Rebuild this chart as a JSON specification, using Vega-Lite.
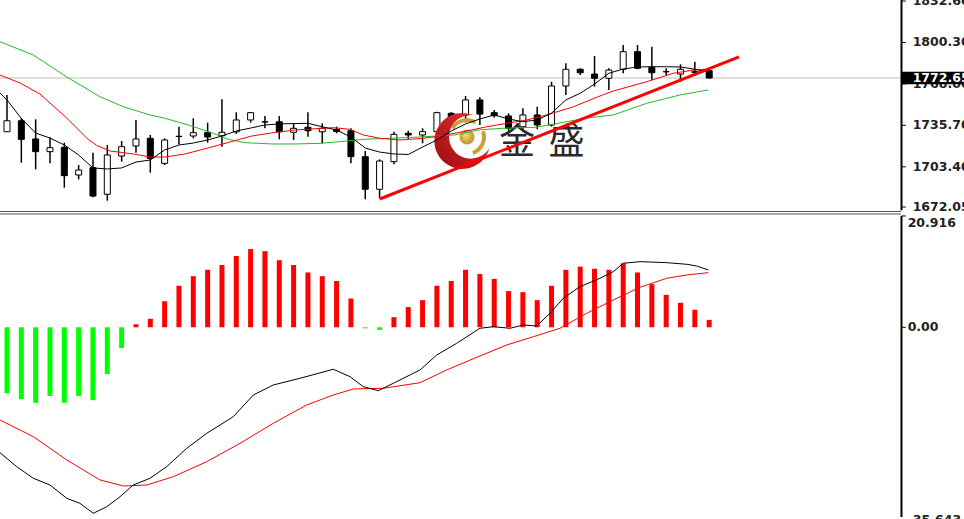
{
  "$schema": "https://vega.github.io/schema/vega-lite/v6.json",
  "autosize": {"type": "none"},
  "padding": {"left": 0, "top": 0, "right": 63, "bottom": 0},
  "width": 901,
  "height": 519,
  "background": "#ffffff",
  "config": {"view": {"stroke": null}, "scale": {"continuousPadding": 0}},
  "datasets": {
    "candles": [
      {"t":0,"o":1730.7,"h":1759.4,"l":1730.5,"c":1739.3},
      {"t":1,"o":1739.3,"h":1741.4,"l":1706.6,"c":1724.8},
      {"t":2,"o":1725.1,"h":1740.4,"l":1701.4,"c":1715.2},
      {"t":3,"o":1715.2,"h":1726.4,"l":1706.1,"c":1718.3},
      {"t":4,"o":1718.6,"h":1722.2,"l":1687.1,"c":1696.5},
      {"t":5,"o":1697.0,"h":1704.8,"l":1693.6,"c":1700.9},
      {"t":6,"o":1702.7,"h":1714.4,"l":1679.6,"c":1680.6},
      {"t":7,"o":1682.0,"h":1720.4,"l":1677.0,"c":1712.6},
      {"t":8,"o":1711.8,"h":1723.5,"l":1707.4,"c":1719.1},
      {"t":9,"o":1719.6,"h":1739.9,"l":1714.4,"c":1725.1},
      {"t":10,"o":1725.6,"h":1728.2,"l":1698.8,"c":1710.0},
      {"t":11,"o":1706.1,"h":1725.6,"l":1704.8,"c":1724.3},
      {"t":12,"o":1727.0,"h":1734.7,"l":1720.8,"c":1727.2},
      {"t":13,"o":1727.4,"h":1741.2,"l":1725.6,"c":1730.0},
      {"t":14,"o":1730.0,"h":1737.8,"l":1722.2,"c":1726.6},
      {"t":15,"o":1727.6,"h":1756.0,"l":1719.1,"c":1730.3},
      {"t":16,"o":1730.7,"h":1745.9,"l":1729.0,"c":1739.9},
      {"t":17,"o":1739.9,"h":1746.0,"l":1737.8,"c":1745.6},
      {"t":18,"o":1738.3,"h":1743.0,"l":1733.4,"c":1738.5},
      {"t":19,"o":1738.5,"h":1743.0,"l":1724.8,"c":1730.7},
      {"t":20,"o":1730.3,"h":1737.3,"l":1724.3,"c":1733.4},
      {"t":21,"o":1734.2,"h":1745.9,"l":1726.9,"c":1731.5},
      {"t":22,"o":1730.7,"h":1737.3,"l":1721.7,"c":1733.4},
      {"t":23,"o":1732.6,"h":1734.7,"l":1729.5,"c":1730.9},
      {"t":24,"o":1731.5,"h":1733.4,"l":1706.1,"c":1711.3},
      {"t":25,"o":1711.3,"h":1715.7,"l":1678.1,"c":1685.9},
      {"t":26,"o":1685.9,"h":1709.2,"l":1678.8,"c":1707.9},
      {"t":27,"o":1707.4,"h":1730.8,"l":1705.3,"c":1728.7},
      {"t":28,"o":1729.5,"h":1731.5,"l":1724.8,"c":1728.2},
      {"t":29,"o":1728.2,"h":1733.4,"l":1721.7,"c":1730.8},
      {"t":30,"o":1730.8,"h":1746.3,"l":1727.0,"c":1745.6},
      {"t":31,"o":1745.1,"h":1746.0,"l":1735.0,"c":1740.4},
      {"t":32,"o":1743.8,"h":1758.6,"l":1738.0,"c":1755.5},
      {"t":33,"o":1755.5,"h":1757.6,"l":1736.0,"c":1744.5},
      {"t":34,"o":1745.6,"h":1747.7,"l":1741.9,"c":1743.2},
      {"t":35,"o":1743.0,"h":1745.1,"l":1730.0,"c":1733.4},
      {"t":36,"o":1734.6,"h":1749.0,"l":1731.0,"c":1743.8},
      {"t":37,"o":1743.8,"h":1750.2,"l":1732.6,"c":1736.0},
      {"t":38,"o":1736.0,"h":1769.7,"l":1734.7,"c":1766.4},
      {"t":39,"o":1766.4,"h":1784.1,"l":1759.4,"c":1779.4},
      {"t":40,"o":1779.4,"h":1780.2,"l":1774.9,"c":1776.7},
      {"t":41,"o":1775.7,"h":1789.8,"l":1765.8,"c":1772.4},
      {"t":42,"o":1772.4,"h":1780.2,"l":1763.3,"c":1778.8},
      {"t":43,"o":1779.4,"h":1798.3,"l":1776.3,"c":1793.1},
      {"t":44,"o":1793.1,"h":1798.3,"l":1779.4,"c":1780.2},
      {"t":45,"o":1780.9,"h":1797.0,"l":1771.0,"c":1776.7},
      {"t":46,"o":1777.5,"h":1780.2,"l":1774.9,"c":1777.5},
      {"t":47,"o":1775.7,"h":1783.3,"l":1769.7,"c":1779.4},
      {"t":48,"o":1777.5,"h":1785.3,"l":1774.2,"c":1777.0},
      {"t":49,"o":1778.3,"h":1779.4,"l":1772.0,"c":1772.6}
    ],
    "ma_black": [
      {"t":-0.49,"p":1760.9},{"t":0,"p":1755.5},{"t":0.98,"p":1741.4},{"t":2,"p":1729.7},{"t":3,"p":1725.8},
      {"t":4,"p":1720.4},{"t":5,"p":1712.6},{"t":6,"p":1702.5},{"t":7,"p":1701.7},{"t":8,"p":1702.5},
      {"t":9,"p":1707.1},{"t":10,"p":1708.7},{"t":11,"p":1716.5},{"t":12,"p":1720.4},{"t":13,"p":1721.9},
      {"t":14,"p":1724.3},{"t":15,"p":1727.4},{"t":16,"p":1731.3},{"t":17,"p":1733.6},{"t":18,"p":1736.0},
      {"t":19,"p":1736.8},{"t":20,"p":1737.1},{"t":21,"p":1737.3},{"t":22,"p":1734.6},{"t":23,"p":1732.1},
      {"t":24,"p":1726.6},{"t":25,"p":1718.0},{"t":26,"p":1714.9},{"t":27,"p":1713.4},{"t":28,"p":1713.0},
      {"t":29,"p":1718.8},{"t":30,"p":1724.3},{"t":31,"p":1731.3},{"t":32,"p":1736.8},{"t":33,"p":1740.7},
      {"t":34,"p":1743.8},{"t":35,"p":1740.7},{"t":36,"p":1738.5},{"t":37,"p":1739.9},{"t":38,"p":1745.3},
      {"t":39,"p":1755.5},{"t":40,"p":1760.7},{"t":41,"p":1767.9},{"t":42,"p":1776.3},{"t":43,"p":1779.6},
      {"t":44,"p":1781.2},{"t":45,"p":1781.4},{"t":46,"p":1781.4},{"t":47,"p":1781.2},{"t":48,"p":1779.4},
      {"t":49,"p":1777.3}
    ],
    "ma_red": [
      {"t":-0.49,"p":1774.9},{"t":0.91,"p":1768.7},{"t":2.30,"p":1760.1},{"t":4.17,"p":1741.4},{"t":5.56,"p":1725.8},
      {"t":6.26,"p":1720.0},{"t":7.19,"p":1715.7},{"t":8.81,"p":1713.4},{"t":9.98,"p":1711.0},{"t":11.03,"p":1711.0},
      {"t":12.42,"p":1713.4},{"t":14.28,"p":1718.8},{"t":15.68,"p":1723.1},{"t":17.08,"p":1727.4},{"t":18.47,"p":1729.8},
      {"t":20.10,"p":1732.1},{"t":22.77,"p":1733.9},{"t":23.94,"p":1732.6},{"t":24.86,"p":1728.2},{"t":26.03,"p":1725.6},
      {"t":27.42,"p":1724.3},{"t":29.05,"p":1725.6},{"t":29.99,"p":1727.0},{"t":31.84,"p":1730.8},{"t":33.48,"p":1734.6},
      {"t":34.87,"p":1737.3},{"t":36.27,"p":1739.9},{"t":37.66,"p":1743.8},{"t":39.52,"p":1750.2},{"t":41.38,"p":1758.6},
      {"t":42.31,"p":1762.5},{"t":44.64,"p":1769.7},{"t":46.50,"p":1776.3},{"t":47.89,"p":1778.8},{"t":48.99,"p":1779.6}
    ],
    "ma_green": [
      {"t":-0.49,"p":1800.9},{"t":1.84,"p":1790.5},{"t":4.17,"p":1773.4},{"t":6.49,"p":1758.0},{"t":8.12,"p":1750.2},
      {"t":9.98,"p":1743.8},{"t":11.03,"p":1741.2},{"t":12.65,"p":1736.0},{"t":14.28,"p":1730.0},{"t":15.44,"p":1724.8},
      {"t":16.61,"p":1722.2},{"t":18.47,"p":1721.2},{"t":20.10,"p":1721.2},{"t":21.84,"p":1721.7},{"t":23.24,"p":1723.0},
      {"t":24.86,"p":1724.8},{"t":26.73,"p":1725.6},{"t":28.35,"p":1726.4},{"t":29.99,"p":1727.4},{"t":31.26,"p":1728.2},
      {"t":32.89,"p":1732.1},{"t":34.52,"p":1733.4},{"t":36.85,"p":1734.2},{"t":38.24,"p":1736.8},{"t":40.33,"p":1741.2},
      {"t":42.31,"p":1743.8},{"t":44.64,"p":1752.9},{"t":46.97,"p":1759.4},{"t":48.94,"p":1763.3}
    ],
    "trend": [{"t":26.01,"p":1678.3},{"t":51.08,"p":1789.0}],
    "last": [{"p":1772.6,"label":"1772.65"}],
    "pticks": [
      {"p":1832.6,"label":"1832.60"},{"p":1800.3,"label":"1800.30"},{"p":1768.0,"label":"1768.00"},
      {"p":1735.7,"label":"1735.70"},{"p":1703.4,"label":"1703.40"},{"p":1672.05,"label":"1672.05"}
    ],
    "mticks": [
      {"v":20.916,"label":"20.916"},{"v":0,"label":"0.00"},{"v":-36.2,"label":"-35.643"}
    ],
    "logo": [
      {"part":"crescent","t":31.78,"p":1723.5},
      {"part":"ball","t":32.1,"p":1726.6},
      {"part":"swoosh","t":32.1,"p":1726.6}
    ],
    "brand": [
      {"t":35.59,"p":1721.9,"txt":"金"},
      {"t":39.04,"p":1721.9,"txt":"盛"}
    ],
    "hist": [
      {"t":0,"v":-12.4},{"t":1,"v":-13.5},{"t":2,"v":-14.2},{"t":3,"v":-12.9},{"t":4,"v":-14.2},
      {"t":5,"v":-12.9},{"t":6,"v":-13.7},{"t":7,"v":-8.8},{"t":8,"v":-3.9},{"t":9,"v":0.56},
      {"t":10,"v":1.6},{"t":11,"v":4.9},{"t":12,"v":7.8},{"t":13,"v":9.6},{"t":14,"v":10.8},
      {"t":15,"v":11.7},{"t":16,"v":13.4},{"t":17,"v":14.7},{"t":18,"v":14.3},{"t":19,"v":12.6},
      {"t":20,"v":11.7},{"t":21,"v":10.3},{"t":22,"v":9.6},{"t":23,"v":8.7},{"t":24,"v":5.4},
      {"t":25,"v":-0.2},{"t":26,"v":-0.5},{"t":27,"v":1.9},{"t":28,"v":3.8},{"t":29,"v":5.1},
      {"t":30,"v":7.8},{"t":31,"v":8.7},{"t":32,"v":10.8},{"t":33,"v":10.0},{"t":34,"v":9.1},
      {"t":35,"v":6.8},{"t":36,"v":6.6},{"t":37,"v":5.1},{"t":38,"v":7.8},{"t":39,"v":10.8},
      {"t":40,"v":11.4},{"t":41,"v":11.0},{"t":42,"v":10.8},{"t":43,"v":12.0},{"t":44,"v":10.3},
      {"t":45,"v":8.1},{"t":46,"v":6.1},{"t":47,"v":4.6},{"t":48,"v":3.3},{"t":49,"v":1.4}
    ],
    "macd": [
      {"t":-0.49,"v":-23.56},{"t":0.68,"v":-26.19},{"t":1.84,"v":-28.37},{"t":3.0,"v":-29.63},{"t":4.17,"v":-32.13},
      {"t":5.09,"v":-33.07},{"t":6.02,"v":-34.95},{"t":6.96,"v":-33.71},{"t":7.89,"v":-31.83},{"t":8.81,"v":-29.63},
      {"t":9.98,"v":-28.37},{"t":11.14,"v":-26.19},{"t":12.54,"v":-22.74},{"t":13.94,"v":-19.92},{"t":15.79,"v":-16.80},
      {"t":17.19,"v":-12.72},{"t":18.58,"v":-10.84},{"t":20.45,"v":-9.58},{"t":22.77,"v":-7.89},{"t":23.94,"v":-9.28},
      {"t":24.86,"v":-11.16},{"t":25.91,"v":-11.91},{"t":26.96,"v":-10.52},{"t":28.82,"v":-8.02},{"t":29.99,"v":-5.20},
      {"t":31.38,"v":-3.01},{"t":33.0,"v":-0.19},{"t":33.94,"v":0.11},{"t":35.1,"v":-0.19},{"t":36.03,"v":0.43},
      {"t":36.96,"v":0.24},{"t":37.89,"v":2.63},{"t":38.82,"v":5.45},{"t":39.99,"v":7.63},{"t":41.38,"v":9.21},
      {"t":42.31,"v":10.45},{"t":43.01,"v":12.03},{"t":44.17,"v":12.33},{"t":46.04,"v":12.14},{"t":47.43,"v":11.84},
      {"t":48.13,"v":11.52},{"t":48.94,"v":10.77}
    ],
    "signal": [
      {"t":-0.49,"v":-17.42},{"t":1.84,"v":-20.56},{"t":4.17,"v":-24.93},{"t":6.49,"v":-28.69},{"t":8.12,"v":-29.82},
      {"t":9.75,"v":-29.63},{"t":11.61,"v":-28.07},{"t":13.94,"v":-25.25},{"t":16.26,"v":-21.80},{"t":18.58,"v":-18.04},
      {"t":20.91,"v":-14.60},{"t":22.77,"v":-12.72},{"t":24.17,"v":-11.59},{"t":26.26,"v":-11.46},{"t":28.82,"v":-10.41},
      {"t":30.68,"v":-8.02},{"t":33.0,"v":-5.39},{"t":34.87,"v":-3.33},{"t":36.73,"v":-1.77},{"t":38.59,"v":-0.19},
      {"t":40.45,"v":2.63},{"t":42.31,"v":5.13},{"t":44.17,"v":7.52},{"t":46.04,"v":9.21},{"t":47.43,"v":9.83},
      {"t":48.94,"v":10.26}
    ]
  },
  "resolve": {"scale": {"y": "independent"}, "axis": {"y": "independent"}},
  "layer": [
    {
      "layer": [
        {
          "data": {"name": "last"},
          "mark": {"type": "rule", "color": "#c0c0c0", "strokeWidth": 1},
          "encoding": {
            "y": {"field": "p", "type": "quantitative",
                  "scale": {"domain": [1668.17, 1833.4], "range": [212, 0], "nice": false, "zero": false, "padding": 0}, "axis": null}
          }
        },
        {
          "data": {"name": "last"},
          "mark": {"type": "rule", "color": "#555555", "strokeWidth": 1},
          "encoding": {
            "y": {"datum": 1668.56, "type": "quantitative",
                  "scale": {"domain": [1668.17, 1833.4], "range": [212, 0], "nice": false, "zero": false, "padding": 0}, "axis": null}
          }
        },
        {
          "data": {"name": "last"},
          "mark": {"type": "rule", "color": "#000000", "strokeWidth": 2},
          "encoding": {
            "x": {"datum": 62.42, "type": "quantitative", "scale": {"domain": [-0.4885, 62.386], "nice": false, "zero": false, "padding": 0}, "axis": null},
            "y": {"datum": 1833.4, "type": "quantitative",
                  "scale": {"domain": [1668.17, 1833.4], "range": [212, 0], "nice": false, "zero": false, "padding": 0}, "axis": null},
            "y2": {"datum": 1669.5}
          }
        },
        {
          "data": {"name": "pticks"},
          "mark": {"type": "rule", "color": "#000000", "strokeWidth": 1},
          "encoding": {
            "x": {"datum": 62.42, "type": "quantitative", "scale": {"domain": [-0.4885, 62.386], "nice": false, "zero": false, "padding": 0}, "axis": null},
            "x2": {"datum": 62.72},
            "y": {"field": "p", "type": "quantitative",
                  "scale": {"domain": [1668.17, 1833.4], "range": [212, 0], "nice": false, "zero": false, "padding": 0}, "axis": null}
          }
        },
        {
          "data": {"name": "pticks"},
          "mark": {"type": "text", "font": "DejaVu Sans", "fontSize": 12.5, "fontWeight": "bold", "color": "#222222", "align": "left", "baseline": "middle"},
          "encoding": {
            "x": {"datum": 63.2, "type": "quantitative", "scale": {"domain": [-0.4885, 62.386], "nice": false, "zero": false, "padding": 0}, "axis": null},
            "y": {"field": "p", "type": "quantitative",
                  "scale": {"domain": [1668.17, 1833.4], "range": [212, 0], "nice": false, "zero": false, "padding": 0}, "axis": null},
            "text": {"field": "label"}
          }
        },
        {
          "data": {"name": "candles"},
          "mark": {"type": "rule", "color": "#000000", "strokeWidth": 1.5},
          "encoding": {
            "x": {"field": "t", "type": "quantitative", "scale": {"domain": [-0.4885, 62.386], "nice": false, "zero": false, "padding": 0}, "axis": null},
            "y": {"field": "l", "type": "quantitative",
                  "scale": {"domain": [1668.17, 1833.4], "range": [212, 0], "nice": false, "zero": false, "padding": 0}, "axis": null},
            "y2": {"field": "h"}
          }
        },
        {
          "data": {"name": "candles"},
          "mark": {"type": "bar", "size": 6, "stroke": "#000000", "strokeWidth": 1},
          "encoding": {
            "x": {"field": "t", "type": "quantitative", "scale": {"domain": [-0.4885, 62.386], "nice": false, "zero": false, "padding": 0}, "axis": null},
            "y": {"field": "o", "type": "quantitative",
                  "scale": {"domain": [1668.17, 1833.4], "range": [212, 0], "nice": false, "zero": false, "padding": 0}, "axis": null},
            "y2": {"field": "c"},
            "fill": {"condition": {"test": "datum.c < datum.o", "value": "#000000"}, "value": "#ffffff"}
          }
        },
        {
          "data": {"name": "logo"},
          "transform": [{"filter": "datum.part == 'crescent'"}],
          "mark": {"type": "point", "filled": true, "opacity": 1, "size": 3136,
                   "shape": "M0.377,-0.926 A1,1 0 1,0 0.967,0.254 A0.78,0.78 0 1,1 0.377,-0.926 Z",
                   "fill": {"gradient": "linear", "x1": 1, "y1": 0, "x2": 0, "y2": 1,
                            "stops": [{"offset": 0, "color": "#f03030"}, {"offset": 1, "color": "#9a0c10"}]},
                   "strokeWidth": 0},
          "encoding": {
            "x": {"field": "t", "type": "quantitative", "scale": {"domain": [-0.4885, 62.386], "nice": false, "zero": false, "padding": 0}, "axis": null},
            "y": {"field": "p", "type": "quantitative",
                  "scale": {"domain": [1668.17, 1833.4], "range": [212, 0], "nice": false, "zero": false, "padding": 0}, "axis": null}
          }
        },
        {
          "data": {"name": "logo"},
          "transform": [{"filter": "datum.part == 'swoosh'"}],
          "mark": {"type": "point", "filled": false, "opacity": 1, "size": 1156,
                   "shape": "M-0.866,-0.5 A1,1 0 0,1 0.5,-0.866 M0.94,-0.342 A1,1 0 0,1 0.342,0.94",
                   "stroke": "#c9a035", "strokeWidth": 4},
          "encoding": {
            "x": {"field": "t", "type": "quantitative", "scale": {"domain": [-0.4885, 62.386], "nice": false, "zero": false, "padding": 0}, "axis": null},
            "y": {"field": "p", "type": "quantitative",
                  "scale": {"domain": [1668.17, 1833.4], "range": [212, 0], "nice": false, "zero": false, "padding": 0}, "axis": null}
          }
        },
        {
          "data": {"name": "logo"},
          "transform": [{"filter": "datum.part == 'ball'"}],
          "mark": {"type": "point", "shape": "circle", "filled": true, "opacity": 1, "size": 225,
                   "fill": {"gradient": "radial", "x1": 0.4, "y1": 0.35, "x2": 0.5, "y2": 0.5, "r1": 0, "r2": 0.6,
                            "stops": [{"offset": 0, "color": "#f5dc80"}, {"offset": 1, "color": "#b8881e"}]},
                   "strokeWidth": 0},
          "encoding": {
            "x": {"field": "t", "type": "quantitative", "scale": {"domain": [-0.4885, 62.386], "nice": false, "zero": false, "padding": 0}, "axis": null},
            "y": {"field": "p", "type": "quantitative",
                  "scale": {"domain": [1668.17, 1833.4], "range": [212, 0], "nice": false, "zero": false, "padding": 0}, "axis": null}
          }
        },
        {
          "data": {"name": "brand"},
          "mark": {"type": "text", "font": "Noto Sans CJK SC", "fontSize": 36, "color": "#2a2a2a", "align": "center", "baseline": "middle"},
          "encoding": {
            "x": {"field": "t", "type": "quantitative", "scale": {"domain": [-0.4885, 62.386], "nice": false, "zero": false, "padding": 0}, "axis": null},
            "y": {"field": "p", "type": "quantitative",
                  "scale": {"domain": [1668.17, 1833.4], "range": [212, 0], "nice": false, "zero": false, "padding": 0}, "axis": null},
            "text": {"field": "txt"}
          }
        },
        {
          "data": {"name": "ma_green"},
          "mark": {"type": "line", "color": "#22bb22", "strokeWidth": 1},
          "encoding": {
            "x": {"field": "t", "type": "quantitative", "scale": {"domain": [-0.4885, 62.386], "nice": false, "zero": false, "padding": 0}, "axis": null},
            "y": {"field": "p", "type": "quantitative",
                  "scale": {"domain": [1668.17, 1833.4], "range": [212, 0], "nice": false, "zero": false, "padding": 0}, "axis": null}
          }
        },
        {
          "data": {"name": "ma_red"},
          "mark": {"type": "line", "color": "#ff0000", "strokeWidth": 1},
          "encoding": {
            "x": {"field": "t", "type": "quantitative", "scale": {"domain": [-0.4885, 62.386], "nice": false, "zero": false, "padding": 0}, "axis": null},
            "y": {"field": "p", "type": "quantitative",
                  "scale": {"domain": [1668.17, 1833.4], "range": [212, 0], "nice": false, "zero": false, "padding": 0}, "axis": null}
          }
        },
        {
          "data": {"name": "ma_black"},
          "mark": {"type": "line", "color": "#000000", "strokeWidth": 1},
          "encoding": {
            "x": {"field": "t", "type": "quantitative", "scale": {"domain": [-0.4885, 62.386], "nice": false, "zero": false, "padding": 0}, "axis": null},
            "y": {"field": "p", "type": "quantitative",
                  "scale": {"domain": [1668.17, 1833.4], "range": [212, 0], "nice": false, "zero": false, "padding": 0}, "axis": null}
          }
        },
        {
          "data": {"name": "trend"},
          "mark": {"type": "line", "color": "#ff0000", "strokeWidth": 3},
          "encoding": {
            "x": {"field": "t", "type": "quantitative", "scale": {"domain": [-0.4885, 62.386], "nice": false, "zero": false, "padding": 0}, "axis": null},
            "y": {"field": "p", "type": "quantitative",
                  "scale": {"domain": [1668.17, 1833.4], "range": [212, 0], "nice": false, "zero": false, "padding": 0}, "axis": null}
          }
        },
        {
          "data": {"name": "last"},
          "mark": {"type": "point", "filled": true, "opacity": 1, "size": 4096, "color": "#000000",
                   "shape": "M-1,-0.197 L1,-0.197 L1,0.197 L-1,0.197 Z", "strokeWidth": 0},
          "encoding": {
            "x": {"datum": 64.62, "type": "quantitative", "scale": {"domain": [-0.4885, 62.386], "nice": false, "zero": false, "padding": 0}, "axis": null},
            "y": {"field": "p", "type": "quantitative",
                  "scale": {"domain": [1668.17, 1833.4], "range": [212, 0], "nice": false, "zero": false, "padding": 0}, "axis": null}
          }
        },
        {
          "data": {"name": "last"},
          "mark": {"type": "text", "font": "DejaVu Sans", "fontSize": 12.5, "fontWeight": "bold", "color": "#ffffff", "align": "left", "baseline": "middle"},
          "encoding": {
            "x": {"datum": 63.2, "type": "quantitative", "scale": {"domain": [-0.4885, 62.386], "nice": false, "zero": false, "padding": 0}, "axis": null},
            "y": {"field": "p", "type": "quantitative",
                  "scale": {"domain": [1668.17, 1833.4], "range": [212, 0], "nice": false, "zero": false, "padding": 0}, "axis": null},
            "text": {"field": "label"}
          }
        }
      ]
    },
    {
      "layer": [
        {
          "data": {"name": "hist"},
          "mark": {"type": "bar", "size": 5},
          "encoding": {
            "x": {"field": "t", "type": "quantitative", "scale": {"domain": [-0.4885, 62.386], "nice": false, "zero": false, "padding": 0}, "axis": null},
            "y": {"field": "v", "type": "quantitative",
                  "scale": {"domain": [-36.02, 21.66], "range": [519, 212], "nice": false, "zero": false, "padding": 0}, "axis": null},
            "y2": {"datum": 0},
            "color": {"condition": {"test": "datum.v < 0", "value": "#00ff00"}, "value": "#ff0000"}
          }
        },
        {
          "data": {"name": "last"},
          "mark": {"type": "rule", "color": "#555555", "strokeWidth": 1},
          "encoding": {
            "y": {"datum": 21.29, "type": "quantitative",
                  "scale": {"domain": [-36.02, 21.66], "range": [519, 212], "nice": false, "zero": false, "padding": 0}, "axis": null}
          }
        },
        {
          "data": {"name": "last"},
          "mark": {"type": "rule", "color": "#000000", "strokeWidth": 2},
          "encoding": {
            "x": {"datum": 62.42, "type": "quantitative", "scale": {"domain": [-0.4885, 62.386], "nice": false, "zero": false, "padding": 0}, "axis": null},
            "y": {"datum": 20.9, "type": "quantitative",
                  "scale": {"domain": [-36.02, 21.66], "range": [519, 212], "nice": false, "zero": false, "padding": 0}, "axis": null},
            "y2": {"datum": -35.65}
          }
        },
        {
          "data": {"name": "mticks"},
          "transform": [{"filter": "datum.v > -30"}],
          "mark": {"type": "rule", "color": "#000000", "strokeWidth": 1},
          "encoding": {
            "x": {"datum": 62.42, "type": "quantitative", "scale": {"domain": [-0.4885, 62.386], "nice": false, "zero": false, "padding": 0}, "axis": null},
            "x2": {"datum": 62.72},
            "y": {"field": "v", "type": "quantitative",
                  "scale": {"domain": [-36.02, 21.66], "range": [519, 212], "nice": false, "zero": false, "padding": 0}, "axis": null}
          }
        },
        {
          "data": {"name": "mticks"},
          "transform": [{"filter": "datum.v > 20"}],
          "mark": {"type": "text", "font": "DejaVu Sans", "fontSize": 12.5, "fontWeight": "bold", "color": "#222222", "align": "left", "baseline": "top", "dy": 1},
          "encoding": {
            "x": {"datum": 62.85, "type": "quantitative", "scale": {"domain": [-0.4885, 62.386], "nice": false, "zero": false, "padding": 0}, "axis": null},
            "y": {"field": "v", "type": "quantitative",
                  "scale": {"domain": [-36.02, 21.66], "range": [519, 212], "nice": false, "zero": false, "padding": 0}, "axis": null},
            "text": {"field": "label"}
          }
        },
        {
          "data": {"name": "mticks"},
          "transform": [{"filter": "datum.v <= 20"}],
          "mark": {"type": "text", "font": "DejaVu Sans", "fontSize": 12.5, "fontWeight": "bold", "color": "#222222", "align": "left", "baseline": "middle"},
          "encoding": {
            "x": {"datum": 62.85, "type": "quantitative", "scale": {"domain": [-0.4885, 62.386], "nice": false, "zero": false, "padding": 0}, "axis": null},
            "y": {"field": "v", "type": "quantitative",
                  "scale": {"domain": [-36.02, 21.66], "range": [519, 212], "nice": false, "zero": false, "padding": 0}, "axis": null},
            "text": {"field": "label"}
          }
        },
        {
          "data": {"name": "signal"},
          "mark": {"type": "line", "color": "#ff0000", "strokeWidth": 1},
          "encoding": {
            "x": {"field": "t", "type": "quantitative", "scale": {"domain": [-0.4885, 62.386], "nice": false, "zero": false, "padding": 0}, "axis": null},
            "y": {"field": "v", "type": "quantitative",
                  "scale": {"domain": [-36.02, 21.66], "range": [519, 212], "nice": false, "zero": false, "padding": 0}, "axis": null}
          }
        },
        {
          "data": {"name": "macd"},
          "mark": {"type": "line", "color": "#000000", "strokeWidth": 1},
          "encoding": {
            "x": {"field": "t", "type": "quantitative", "scale": {"domain": [-0.4885, 62.386], "nice": false, "zero": false, "padding": 0}, "axis": null},
            "y": {"field": "v", "type": "quantitative",
                  "scale": {"domain": [-36.02, 21.66], "range": [519, 212], "nice": false, "zero": false, "padding": 0}, "axis": null}
          }
        }
      ]
    }
  ]
}
